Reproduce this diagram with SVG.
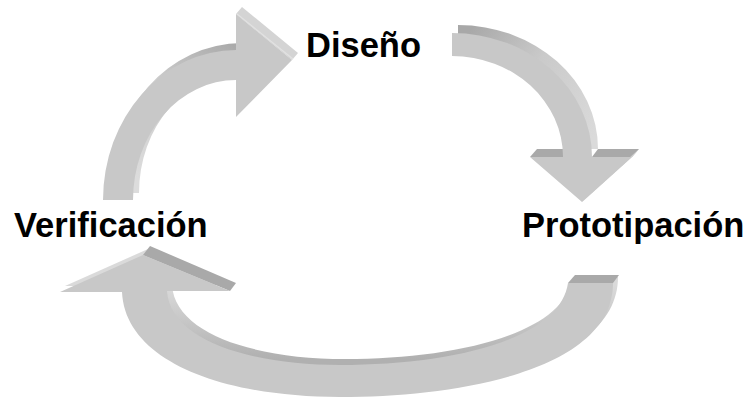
<svg xmlns="http://www.w3.org/2000/svg" width="751" height="398" viewBox="0 0 751 398">
  <defs>
    <style>
      .face { fill: #c8c8c8; }
      .dark { fill: #a9a9a9; }
      .lite { fill: #d4d4d4; }
      .lbl { font-family: "Liberation Sans", Arial, sans-serif; font-weight: bold; font-size: 34.5px; fill: #000; }
    </style>
    <linearGradient id="g1" gradientUnits="userSpaceOnUse" x1="140" y1="190" x2="225" y2="45">
      <stop offset="0" stop-color="#dcdcdc"/>
      <stop offset="0.55" stop-color="#cdcdcd"/>
      <stop offset="1" stop-color="#a8a8a8"/>
    </linearGradient>
    <linearGradient id="g2" gradientUnits="userSpaceOnUse" x1="470" y1="30" x2="600" y2="130">
      <stop offset="0" stop-color="#a8a8a8"/>
      <stop offset="0.45" stop-color="#cacaca"/>
      <stop offset="1" stop-color="#dadada"/>
    </linearGradient>
    <linearGradient id="g3" gradientUnits="userSpaceOnUse" x1="0" y1="292" x2="0" y2="365">
      <stop offset="0" stop-color="#dadada"/>
      <stop offset="0.5" stop-color="#c6c6c6"/>
      <stop offset="1" stop-color="#b0b0b0"/>
    </linearGradient>
  </defs>

  <g id="connectors">
    <!-- Verificación -> Diseño -->
    <g id="arrow-verif-diseno">
      <path transform="translate(6,-7)" fill="url(#g1)" d="M103,200 A133,150 0 0 1 236,50 L236,80 A103,120 0 0 0 133,200 Z"/>
      <polygon class="lite" points="236,14 242,7 298,53 292,60"/>
      <line x1="237" y1="14" x2="293" y2="59" stroke="#e2e2e2" stroke-width="1.2"/>
      <path class="face" d="M103,200 A133,150 0 0 1 236,50 L236,14 L292,60 L236,117 L236,80 A103,120 0 0 0 133,200 Z"/>
    </g>
    <!-- Diseño -> Prototipación -->
    <g id="arrow-diseno-proto">
      <path transform="translate(6,-8)" fill="url(#g2)" d="M452,33 A140,124 0 0 1 592,157 L563,157 A111,101 0 0 0 452,56 Z"/>
      <polygon class="dark" points="530,157 537,149 569,149 563,157"/>
      <polygon class="dark" points="592,157 598,149 639,149 632,157"/>
      <polygon fill="#cecece" points="632,157 639,149 589,194 582,202"/>
      <path class="face" d="M452,33 A140,124 0 0 1 592,157 L632,157 L582,202 L530,157 L563,157 A111,101 0 0 0 452,56 Z"/>
    </g>
    <!-- Prototipación -> Verificación -->
    <g id="arrow-proto-verif">
      <path transform="translate(5,-6)" fill="url(#g3)" d="M613,283 C613,370 460,397 340,397 C220,397 125,360 122,292 L60,292 L143,255 L230,291 L167,291 C170,340 250,365 340,365 C450,365 560,340 568,283 Z"/>
      <polygon class="dark" points="568,283 575,275 619,275 613,283"/>
      <polygon class="dark" points="143,255 150,246 236,283 230,291"/>
      <path class="face" d="M613,283 C613,370 460,397 340,397 C220,397 125,360 122,292 L60,292 L143,255 L230,291 L167,291 C170,340 250,365 340,365 C450,365 560,340 568,283 Z"/>
    </g>
  </g>

  <g id="node-diseno">
    <text class="lbl" x="306" y="57">Diseño</text>
  </g>
  <g id="node-prototipacion">
    <text class="lbl" x="522" y="237">Prototipación</text>
  </g>
  <g id="node-verificacion">
    <text class="lbl" x="14" y="237">Verificación</text>
  </g>
</svg>
